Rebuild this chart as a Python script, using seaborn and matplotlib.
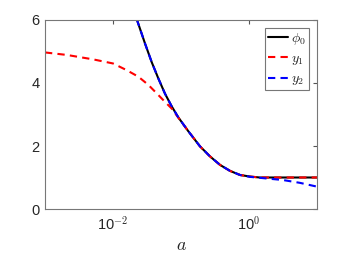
import matplotlib
matplotlib.use("Agg")
import matplotlib.pyplot as plt
import numpy as np
import pandas as pd
import seaborn as sns

# values (a on log axis)
a_phi0 = [0.0223, 0.0296, 0.0371, 0.0463, 0.0582, 0.0729, 0.0912, 0.128, 0.190, 0.267, 0.375, 0.526, 0.738, 1.035, 1.445, 3.0, 10.0]
v_phi0 = [6.03, 5.25, 4.66, 4.15, 3.66, 3.26, 2.91, 2.47, 1.99, 1.67, 1.40, 1.21, 1.08, 1.03, 1.00, 1.00, 1.00]

a_y1 = [0.001, 0.0021, 0.0051, 0.0100, 0.0158, 0.0236, 0.0331, 0.0440, 0.0582, 0.0729, 0.0912, 0.128, 0.190, 0.267, 0.375, 0.526, 0.738, 1.035, 1.445, 3.0, 10.0]
v_y1 = [4.97, 4.89, 4.75, 4.62, 4.41, 4.20, 3.94, 3.67, 3.40, 3.19, 2.90, 2.47, 1.99, 1.67, 1.40, 1.21, 1.08, 1.03, 1.00, 1.00, 1.00]

a_y2 = [0.0223, 0.0296, 0.0371, 0.0463, 0.0582, 0.0729, 0.0912, 0.128, 0.190, 0.267, 0.375, 0.526, 0.738, 1.035, 1.80, 3.16, 5.62, 10.0]
v_y2 = [6.03, 5.25, 4.66, 4.15, 3.66, 3.26, 2.91, 2.47, 1.99, 1.67, 1.40, 1.21, 1.08, 1.02, 0.97, 0.92, 0.83, 0.71]

sns.set_style("white")
plt.rcParams["font.family"] = ["Liberation Sans", "DejaVu Sans"]
plt.rcParams["mathtext.fontset"] = "cm"

fig = plt.figure(figsize=(3.5, 2.63), dpi=100)
ax = fig.add_axes([0.1286, 0.2053, 0.7771, 0.7187])

sns.lineplot(x=a_phi0, y=v_phi0, ax=ax, color="black", lw=1.5, label=r"$\phi_0$")
sns.lineplot(x=a_y1, y=v_y1, ax=ax, color="#ff0000", lw=1.5, ls=(0, (3.5, 2.5)), label=r"$y_1$")
sns.lineplot(x=a_y2, y=v_y2, ax=ax, color="#0000ff", lw=1.5, ls=(0, (3.5, 2.5)), label=r"$y_2$")

ax.set_xscale("log")
ax.set_xlim(1e-3, 10)
ax.set_ylim(0, 6)
ax.set_xticks([1e-2, 1e0])
ax.set_xticklabels([r"10$^{-2}$", r"10$^{0}$"])
ax.xaxis.set_minor_locator(matplotlib.ticker.NullLocator())
ax.set_yticks([0, 2, 4, 6])
ax.tick_params(direction="in", length=3, color="#555555", labelsize=10.5,
               labelcolor="#262626", top=True, right=True, pad=4)
for s in ax.spines.values():
    s.set_color("#777777")
    s.set_linewidth(0.8)
ax.set_xlabel(r"$a$", fontsize=13, labelpad=3)
ax.set_ylabel("")

leg = ax.legend(loc="upper right", fontsize=10, handlelength=1.45, handletextpad=0.2,
                borderpad=0.2, labelspacing=0.3, borderaxespad=0.6, fancybox=False,
                framealpha=1, edgecolor="#777777")
leg.get_frame().set_linewidth(0.8)

fig.savefig("out.png", dpi=100)
